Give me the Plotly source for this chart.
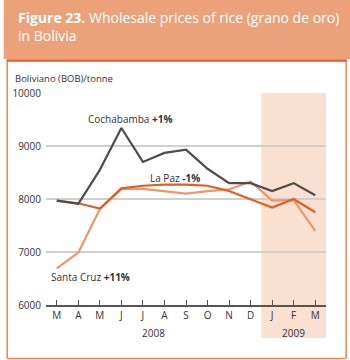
import plotly.graph_objects as go

months = ["M", "A", "M", "J", "J", "A", "S", "O", "N", "D", "J", "F", "M"]
years = ["2008", "2009"]
cochabamba = [7970, 7910, 8550, 9340, 8700, 8870, 8930, 8570, 8300, 8300, 8150, 8300, 8070]
la_paz = [7970, 7920, 7820, 8200, 8250, 8270, 8270, 8250, 8150, 8000, 7840, 8000, 7750]
santa_cruz = [6690, 6990, 7810, 8190, 8190, 8150, 8100, 8150, 8180, 8330, 7970, 7980, 7400]
y_ticks = [6000, 7000, 8000, 9000, 10000]

x = list(range(len(months)))

W, H = 350, 360
L, R, T, B = 41, 24, 93, 55
pw, ph = W - L - R, H - T - B

def px(xp):
    return (xp - L) / pw

def py(yp):
    return (H - B - yp) / ph

FONT = "Open Sans"
fig = go.Figure()

fig.add_trace(go.Scatter(x=x, y=santa_cruz, mode="lines", line=dict(color="#F0956A", width=2.2), name="Santa Cruz"))
fig.add_trace(go.Scatter(x=x, y=la_paz, mode="lines", line=dict(color="#E35D21", width=2.2), name="La Paz"))
fig.add_trace(go.Scatter(x=x, y=cochabamba, mode="lines", line=dict(color="#4D4D4D", width=2.2), name="Cochabamba"))

shapes = [
    dict(type="rect", xref="x", yref="paper", x0=9.5, x1=12.5, y0=py(338), y1=1,
         fillcolor="#FAE0D0", line=dict(width=0), layer="below"),
    dict(type="rect", xref="paper", yref="paper", x0=px(-2), x1=px(352), y0=py(59), y1=py(-2),
         fillcolor="#EBA27B", line=dict(width=0), layer="below"),
    dict(type="line", xref="paper", yref="paper", x0=px(1.5), x1=px(1.5), y0=py(60), y1=py(358.5),
         line=dict(color="#E9855A", width=1.5)),
    dict(type="line", xref="paper", yref="paper", x0=px(346.5), x1=px(346.5), y0=py(60), y1=py(358.5),
         line=dict(color="#E9855A", width=1.5)),
    dict(type="line", xref="paper", yref="paper", x0=px(1.5), x1=px(346.5), y0=py(358.5), y1=py(358.5),
         line=dict(color="#E9855A", width=1.5)),
    dict(type="line", xref="paper", yref="paper", x0=px(1), x1=px(347), y0=py(60.5), y1=py(60.5),
         line=dict(color="#E8602C", width=2.5)),
]

annotations = [
    dict(xref="paper", yref="paper", x=px(10), y=py(6), xanchor="left", yanchor="top", align="left",
         text="<b>Figure 23.</b> Wholesale prices of rice (grano de oro)<br>in Bolivia",
         showarrow=False, font=dict(family=FONT, size=14, color="white")),
    dict(xref="paper", yref="paper", x=px(7), y=py(79), xanchor="left", yanchor="middle",
         text="Boliviano (BOB)/tonne", showarrow=False, font=dict(family=FONT, size=9.5, color="#333333")),
    dict(xref="x", yref="y", x=1.35, y=9510, xanchor="left", yanchor="middle",
         text="Cochabamba <b>+1%</b>", showarrow=False, font=dict(family=FONT, size=10, color="#333333")),
    dict(xref="x", yref="y", x=4.25, y=8400, xanchor="left", yanchor="middle",
         text="La Paz <b>-1%</b>", showarrow=False, font=dict(family=FONT, size=10, color="#333333")),
    dict(xref="x", yref="y", x=-0.35, y=6520, xanchor="left", yanchor="middle",
         text="Santa Cruz <b>+11%</b>", showarrow=False, font=dict(family=FONT, size=10, color="#333333")),
    dict(xref="x", yref="paper", x=4.5, y=py(333), xanchor="center", yanchor="middle",
         text=years[0], showarrow=False, font=dict(family=FONT, size=10, color="#333333")),
    dict(xref="x", yref="paper", x=11, y=py(333), xanchor="center", yanchor="middle",
         text=years[1], showarrow=False, font=dict(family=FONT, size=10, color="#333333")),
]

fig.update_layout(
    width=W, height=H,
    margin=dict(l=L, r=R, t=T, b=B),
    paper_bgcolor="white", plot_bgcolor="rgba(0,0,0,0)",
    showlegend=False,
    shapes=shapes, annotations=annotations,
    font=dict(family=FONT, size=10, color="#333333"),
)
fig.update_xaxes(
    range=[-0.5, 12.5], tickmode="array", tickvals=x, ticktext=months,
    showgrid=False, zeroline=False, showline=True, linecolor="#555555", linewidth=1.5,
    ticks="inside", ticklen=5, tickcolor="#555555", tickwidth=1,
    tickfont=dict(family=FONT, size=10, color="#333333"), fixedrange=True,
)
fig.update_yaxes(
    range=[6000, 10000], tickmode="array", tickvals=y_ticks, ticktext=[str(v) for v in y_ticks],
    showgrid=True, gridcolor="#CFCFCF", gridwidth=1.5, zeroline=False, showline=False,
    ticks="", ticklabelstandoff=4,
    tickfont=dict(family=FONT, size=10, color="#333333"), fixedrange=True,
)

fig.write_html("out.html")
